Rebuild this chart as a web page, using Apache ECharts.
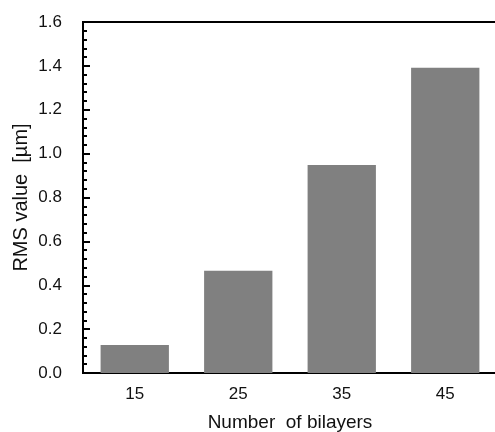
<!DOCTYPE html>
<html>
<head>
<meta charset="utf-8">
<script src="https://cdn.jsdelivr.net/npm/echarts@6/dist/echarts.min.js"></script>
<style>
html, body { margin: 0; padding: 0; background: #fff; }
#chart { width: 495px; height: 432px; }
</style>
</head>
<body>
<div id="chart"></div>
<script>
var categories = ['15', '25', '35', '45'];
var rmsValues = [0.128, 0.466, 0.948, 1.392];

var chart = echarts.init(document.getElementById('chart'));
var font = 'Liberation Sans, Arial, sans-serif';

var option = {
  animation: false,
  grid: {
    left: 83, top: 22, right: -2, bottom: 59,
    outerBoundsMode: 'none',
    containLabel: false,
    show: true, borderColor: '#000', borderWidth: 2
  },
  xAxis: {
    type: 'category',
    data: categories,
    name: 'Number  of bilayers',
    nameLocation: 'middle',
    nameGap: 40,
    nameMoveOverlap: false,
    nameTextStyle: { fontFamily: font, fontSize: 19, color: '#111' },
    axisLine: { lineStyle: { color: '#000', width: 2 } },
    axisTick: { inside: true, length: 5, lineStyle: { color: '#000', width: 2 } },
    axisLabel: { fontFamily: font, fontSize: 17, color: '#111', margin: 13 },
    splitLine: { show: false }
  },
  yAxis: {
    type: 'value',
    min: 0, max: 1.6, interval: 0.2,
    name: 'RMS value  [µm]',
    nameLocation: 'middle',
    nameGap: 52,
    nameMoveOverlap: false,
    nameTextStyle: { fontFamily: font, fontSize: 20, color: '#111' },
    axisLine: { show: true, lineStyle: { color: '#000', width: 2 } },
    axisTick: { show: true, inside: true, length: 7, lineStyle: { color: '#000', width: 2 } },
    minorTick: { show: true, splitNumber: 5, length: 4, lineStyle: { color: '#000', width: 2 } },
    axisLabel: {
      fontFamily: font, fontSize: 17, color: '#111', margin: 21,
      formatter: function (v) { return v.toFixed(1); }
    },
    splitLine: { show: false }
  },
  series: [{
    type: 'bar',
    data: rmsValues,
    barCategoryGap: '34%',
    itemStyle: { color: '#808080' }
  }]
};
chart.setOption(option);
</script>
</body>
</html>
